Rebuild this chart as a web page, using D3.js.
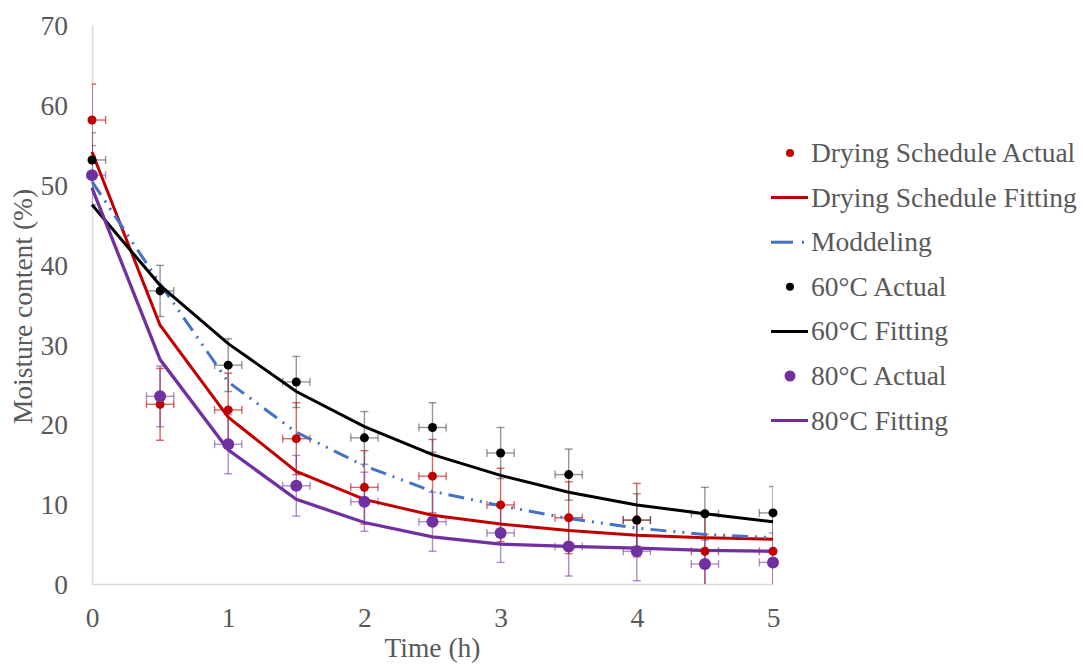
<!DOCTYPE html>
<html>
<head>
<meta charset="utf-8">
<script src="https://cdn.jsdelivr.net/npm/d3@7"></script>
<style>
  body { margin: 0; background: #fff; }
  svg text { font-family: "Liberation Serif", "Times New Roman", serif; fill: #595959; }
</style>
</head>
<body>
<svg id="chart" width="1083" height="666"></svg>
<script>
// data
var times = [0, 0.5, 1, 1.5, 2, 2.5, 3, 3.5, 4, 4.5, 5];
var timeErr = 0.1;

var scheduleActual = [58.1, 22.5, 21.8, 18.2, 12.1, 13.5, 9.9, 8.3, 8.0, 4.1, 4.1];
var scheduleErr    = [4.5, 4.5, 4.6, 4.5, 4.6, 4.6, 4.6, 4.5, 4.6, 4.6, 4.6];
var scheduleFit    = [54.1, 32.4, 20.9, 14.1, 10.6, 8.6, 7.5, 6.7, 6.1, 5.8, 5.6];
var modeling       = [50.4, 37.6, 25.3, 19.0, 14.8, 11.6, 9.8, 8.2, 7.0, 6.2, 5.8];
var actual60       = [53.1, 36.7, 27.4, 25.3, 18.3, 19.6, 16.4, 13.7, 8.0, 8.8, 8.9];
var err60          = [3.4, 3.2, 3.3, 3.2, 3.3, 3.1, 3.2, 3.2, 3.3, 3.3, 3.3];
var fit60          = [47.5, 37.4, 30.1, 24.1, 19.7, 16.2, 13.6, 11.5, 9.9, 8.8, 7.8];
var actual80       = [51.2, 23.5, 17.5, 12.3, 10.3, 7.8, 6.4, 4.7, 4.1, 2.5, 2.7];
var err80          = [3.7, 3.8, 3.7, 3.8, 3.7, 3.7, 3.7, 3.7, 3.7, 3.7, 3.7];
var fit80          = [49.6, 28.1, 16.8, 10.6, 7.7, 5.9, 5.0, 4.7, 4.5, 4.2, 4.1];

var xTicks = [0, 1, 2, 3, 4, 5];
var yTicks = [0, 10, 20, 30, 40, 50, 60, 70];

var red = "#c00000", blue = "#4472c4", purple = "#7030a0";
var fontSize = "27.5px";

var svg = d3.select("#chart");
var plot = {left: 92, right: 773, top: 25, bottom: 584};

var x = d3.scaleLinear().domain([0, 5]).range([plot.left, plot.right]);
var y = d3.scaleLinear().domain([0, 70]).range([plot.bottom, plot.top]);

// clip for error bars
svg.append("defs").append("clipPath").attr("id", "plotClip")
  .append("rect")
  .attr("x", plot.left).attr("y", plot.top)
  .attr("width", plot.right - plot.left).attr("height", plot.bottom - plot.top);

// axes
var yAxis = svg.append("g")
  .attr("transform", "translate(" + plot.left + ",0)")
  .call(d3.axisLeft(y).tickValues(yTicks).tickSize(0).tickFormat(d3.format("d")));
yAxis.select(".domain").attr("stroke", "#d9d9d9").attr("stroke-width", 1.5);
yAxis.selectAll("text").attr("x", -24).attr("dy", "0.35em")
  .style("font-size", fontSize).style("font-family", "Liberation Serif");

var xAxis = svg.append("g")
  .attr("transform", "translate(0," + plot.bottom + ")")
  .call(d3.axisBottom(x).tickValues(xTicks).tickSize(0).tickFormat(d3.format("d")));
xAxis.select(".domain").attr("stroke", "#d9d9d9").attr("stroke-width", 1.5);
xAxis.selectAll("text").attr("y", 43).attr("dy", 0)
  .style("font-size", fontSize).style("font-family", "Liberation Serif");

svg.append("text")
  .attr("x", (plot.left + plot.right) / 2).attr("y", 657)
  .attr("text-anchor", "middle").style("font-size", fontSize)
  .text("Time (h)");

svg.append("text")
  .attr("transform", "translate(32," + ((plot.top + plot.bottom) / 2 + 2) + ") rotate(-90)")
  .attr("text-anchor", "middle").style("font-size", fontSize)
  .text("Moisture content (%)");

// error bars
var errGroup = svg.append("g").attr("clip-path", "url(#plotClip)");
function drawErrors(vals, errs, color, opacity) {
  var g = errGroup.append("g")
    .attr("stroke", color).attr("stroke-width", 1.4).attr("stroke-opacity", opacity).attr("fill", "none");
  var cap = 4;
  times.forEach(function (t, i) {
    var cx = x(t), cy = y(vals[i]);
    var y1 = y(vals[i] + errs[i]), y2 = y(vals[i] - errs[i]);
    var x1 = x(t - timeErr), x2 = x(t + timeErr);
    g.append("line").attr("x1", cx).attr("x2", cx).attr("y1", y1).attr("y2", y2);
    g.append("line").attr("x1", cx - cap).attr("x2", cx + cap).attr("y1", y1).attr("y2", y1);
    g.append("line").attr("x1", cx - cap).attr("x2", cx + cap).attr("y1", y2).attr("y2", y2);
    g.append("line").attr("x1", x1).attr("x2", x2).attr("y1", cy).attr("y2", cy);
    g.append("line").attr("x1", x1).attr("x2", x1).attr("y1", cy - cap).attr("y2", cy + cap);
    g.append("line").attr("x1", x2).attr("x2", x2).attr("y1", cy - cap).attr("y2", cy + cap);
  });
}
drawErrors(scheduleActual, scheduleErr, red, 0.6);
drawErrors(actual60, err60, "#404040", 0.55);
drawErrors(actual80, err80, purple, 0.55);

// lines
var line = d3.line()
  .x(function (d, i) { return x(times[i]); })
  .y(function (d) { return y(d); });

var dashPattern = "16,7,2,7,2,7";
svg.append("path").datum(scheduleFit).attr("d", line)
  .attr("fill", "none").attr("stroke", red).attr("stroke-width", 3);
svg.append("path").datum(modeling).attr("d", line)
  .attr("fill", "none").attr("stroke", blue).attr("stroke-width", 3)
  .attr("stroke-dasharray", dashPattern);
svg.append("path").datum(fit60).attr("d", line)
  .attr("fill", "none").attr("stroke", "#000").attr("stroke-width", 3);
svg.append("path").datum(fit80).attr("d", line)
  .attr("fill", "none").attr("stroke", purple).attr("stroke-width", 3.3);

// markers
function drawDots(vals, color, r) {
  svg.append("g").selectAll("circle")
    .data(vals).enter().append("circle")
    .attr("cx", function (d, i) { return x(times[i]); })
    .attr("cy", function (d) { return y(d); })
    .attr("r", r).attr("fill", color);
}
drawDots(scheduleActual, red, 4.5);
drawDots(actual60, "#000", 4.5);
drawDots(actual80, purple, 6);

// legend
var legendItems = [
  {label: "Drying Schedule Actual", type: "dot", color: red, r: 4},
  {label: "Drying Schedule Fitting", type: "line", color: red},
  {label: "Moddeling", type: "dash", color: blue},
  {label: "60°C Actual", type: "dot", color: "#000", r: 4},
  {label: "60°C Fitting", type: "line", color: "#000"},
  {label: "80°C Actual", type: "dot", color: purple, r: 5.5},
  {label: "80°C Fitting", type: "line", color: purple}
];
var legend = svg.append("g").attr("transform", "translate(771,153)");
legendItems.forEach(function (d, i) {
  var g = legend.append("g").attr("transform", "translate(0," + (i * 44.6) + ")");
  if (d.type === "dot") {
    g.append("circle").attr("cx", 19).attr("cy", 0).attr("r", d.r).attr("fill", d.color);
  } else if (d.type === "line") {
    g.append("line").attr("x1", 0).attr("x2", 37).attr("y1", 0).attr("y2", 0)
      .attr("stroke", d.color).attr("stroke-width", 3);
  } else {
    g.append("line").attr("x1", 0).attr("x2", 22).attr("y1", 0).attr("y2", 0)
      .attr("stroke", d.color).attr("stroke-width", 3);
    g.append("line").attr("x1", 31).attr("x2", 33).attr("y1", 0).attr("y2", 0)
      .attr("stroke", d.color).attr("stroke-width", 3);
  }
  g.append("text").attr("x", 40).attr("y", 0).attr("dy", "0.33em")
    .style("font-size", fontSize).text(d.label);
});
</script>
</body>
</html>
